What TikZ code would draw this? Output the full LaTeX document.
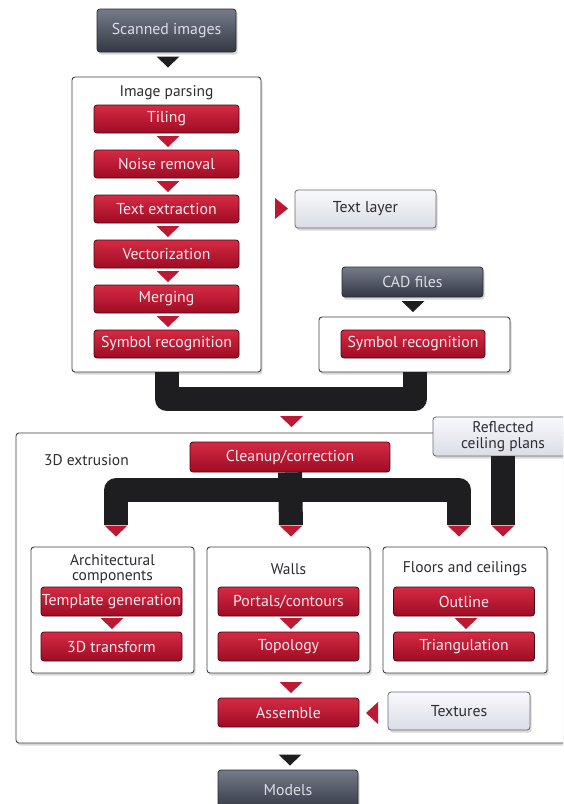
\documentclass[tikz,border=0pt]{standalone}
\usepackage{fontspec}
\setmainfont{PT Sans}
\usetikzlibrary{shadows}
\definecolor{redA}{RGB}{214,42,68}
\definecolor{redB}{RGB}{158,12,36}
\definecolor{redE}{RGB}{70,8,18}
\definecolor{redT}{RGB}{190,24,50}
\definecolor{darkA}{RGB}{118,123,138}
\definecolor{darkB}{RGB}{52,56,68}
\definecolor{darkE}{RGB}{40,42,50}
\definecolor{darkT}{RGB}{218,221,228}
\definecolor{liteA}{RGB}{248,249,252}
\definecolor{liteB}{RGB}{218,221,230}
\definecolor{liteE}{RGB}{105,108,116}
\definecolor{txt}{RGB}{45,45,50}
\definecolor{conn}{RGB}{30,30,32}
\definecolor{pinkw}{RGB}{252,232,236}
\tikzset{
  shad/.style={drop shadow={shadow xshift=1.5pt, shadow yshift=-2.5pt, opacity=0.3}},
  redbox/.style={draw=redE, line width=0.8pt, rounded corners=3pt, top color=redA, bottom color=redB,
    text=pinkw, font=\fontsize{15.8}{15.8}\selectfont, inner sep=0pt, minimum height=28pt},
  darkbox/.style={draw=darkE, line width=0.8pt, rounded corners=3pt, top color=darkA, bottom color=darkB,
    text=darkT, font=\fontsize{15.8}{15.8}\selectfont, inner sep=0pt, shad},
  litebox/.style={draw=liteE, line width=0.8pt, rounded corners=3pt, top color=liteA, bottom color=liteB,
    text=txt, font=\fontsize{15.8}{15.8}\selectfont, inner sep=0pt, shad},
  outerbox/.style={draw=black!75, line width=0.9pt, rounded corners=3pt, fill=white, inner sep=0pt, shad},
  title/.style={text=txt, font=\fontsize{15.5}{15.5}\selectfont, align=center, inner sep=0pt},
  thick conn/.style={draw=conn, line width=24pt, line join=round},
}
\newcommand\tridown[3]{\fill[#3] (#1,#2) ++(-11.5,-5.5) -- ++(23,0) -- ++(-11.5,11) -- cycle;}
\newcommand\triright[2]{\fill[redT] (#1,#2) ++(-6.5,-10.5) -- ++(13,10.5) -- ++(-13,10.5) -- cycle;}
\newcommand\trileft[2]{\fill[redT] (#1,#2) ++(6,-11) -- ++(-12,11) -- ++(12,11) -- cycle;}
\begin{document}
\begin{tikzpicture}[x=1pt,y=-1pt]
\clip (0,0) rectangle (563,804);
\fill[white] (0,0) rectangle (563,804);

% ---------- top part ----------
\node[darkbox, minimum width=139pt, minimum height=43pt] (scan) at (166.5,30.5) {Scanned images};
\tridown{168}{62}{conn}

\node[outerbox, minimum width=189pt, minimum height=295pt] (ip) at (166.5,224.5) {};
\node[title] (iptitle) at (166.5,93) {Image parsing};
\node[redbox, minimum width=145pt] (tiling) at (166.5,119) {Tiling};
\node[redbox, minimum width=145pt] (noise) at (166.5,164) {Noise removal};
\node[redbox, minimum width=145pt] (textex) at (166.5,209) {Text extraction};
\node[redbox, minimum width=145pt] (vect) at (166.5,254) {Vectorization};
\node[redbox, minimum width=145pt] (merge) at (166.5,299) {Merging};
\node[redbox, minimum width=145pt] (symrec) at (166.5,344) {Symbol recognition};
\foreach \y in {141.5,186.5,231.5,276.5,321.5} {\tridown{168}{\y}{redT}}

\triright{281.5}{208.5}
\node[litebox, minimum width=141pt, minimum height=38pt] (textlayer) at (365.5,209) {Text layer};

\node[darkbox, minimum width=141pt, minimum height=30pt] (cad) at (412.5,282) {CAD files};
\tridown{413}{306.5}{conn}
\node[outerbox, minimum width=191pt, minimum height=55pt] (cadbox) at (414.5,344.5) {};
\node[redbox, minimum width=144pt] (symrec2) at (413,344) {Symbol recognition};

% U connector
\draw[thick conn] (ip.south) -- (166.5,399) -- (414.5,399) -- (cadbox.south);
\tridown{291.5}{421.5}{redT}

% ---------- 3D extrusion ----------
\node[outerbox, minimum width=559pt, minimum height=310pt] (ext) at (295.5,588) {};
\node[litebox, minimum width=140pt, minimum height=39pt, align=center, font=\fontsize{15.5}{15.5}\selectfont] (rcp) at (503,436.5) {Reflected\\ceiling plans};
\node[title, anchor=west] (extlabel) at (44,460) {3D extrusion};
\node[redbox, minimum width=200pt, minimum height=30pt] (clean) at (290,457) {Cleanup/correction};

\coordinate (ta) at (116,525);
\coordinate (tb) at (291,525);
\coordinate (tc) at (459,525);
\coordinate (td) at (503,525);
\draw[thick conn] (clean.south) -- (tb);
\draw[thick conn] (ta) -- (116,490) -- (459,490) -- (tc);
\draw[thick conn] (rcp.south) -- (td);
\foreach \x in {116,291,459,503} {\tridown{\x}{531}{redT}}

% sub boxes
\node[outerbox, minimum width=163pt, minimum height=126pt] (arch) at (112.5,610) {};
\node[outerbox, minimum width=163pt, minimum height=126pt] (walls) at (288.5,610) {};
\node[outerbox, minimum width=164pt, minimum height=126pt] (floors) at (465,610) {};
\node[title] (archt) at (112.5,569) {Architectural\\components};
\node[title] (wallst) at (288.5,569) {Walls};
\node[title] (floorst) at (465,569) {Floors and ceilings};

\node[redbox, minimum width=141pt, minimum height=29pt] (templ) at (111.5,601.5) {Template generation};
\node[redbox, minimum width=141pt, minimum height=29pt] (trans) at (111.5,646.5) {3D transform};
\node[redbox, minimum width=141pt, minimum height=29pt] (portals) at (288.5,601.5) {Portals/contours};
\node[redbox, minimum width=141pt, minimum height=29pt] (topo) at (288.5,646.5) {Topology};
\node[redbox, minimum width=141pt, minimum height=29pt] (outline) at (464,601.5) {Outline};
\node[redbox, minimum width=141pt, minimum height=29pt] (tri) at (464,646.5) {Triangulation};
\foreach \x in {112,291,466} {\tridown{\x}{623.5}{redT}}

\tridown{291}{687.5}{redT}
\node[redbox, minimum width=141pt, minimum height=29pt] (assemble) at (288.5,712.5) {Assemble};
\trileft{372}{713}
\node[litebox, minimum width=142pt, minimum height=38pt] (textures) at (459,711) {Textures};

% ---------- bottom ----------
\tridown{290}{760}{conn}
\node[darkbox, minimum width=140pt, minimum height=40pt] (models) at (288,790) {Models};
\end{tikzpicture}
\end{document}
